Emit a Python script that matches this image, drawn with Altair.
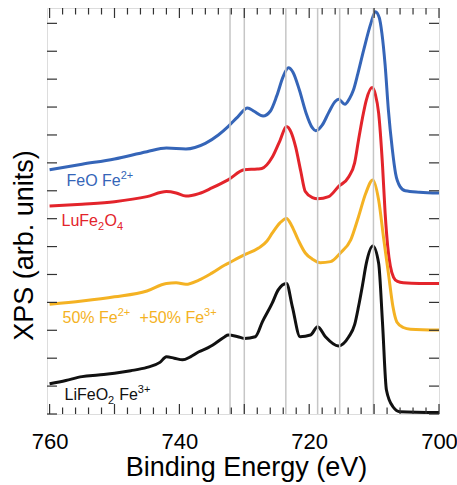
import altair as alt
import pandas as pd

# ---------------- data ----------------
feo_E = [760, 755, 750, 745, 742, 739, 736, 734, 732.5, 731, 729.5, 728.5, 727.1, 726, 725, 724,
         723.2, 722.5, 721.5, 720.5, 719.5, 719.0, 718.0, 717, 716, 715.5, 714.5, 713.8, 713.2,
         712.5, 711.6, 710.5, 709.8, 709.2, 708.8, 708.3, 707.8, 707.2, 706.7, 706.0, 705.2, 703, 700]
feo_I = [8.75, 8.95, 9.14, 9.4, 9.53, 9.5, 9.7, 10.0, 10.3, 10.65, 10.97, 10.85, 10.68, 10.85, 11.4, 12.1,
         12.41, 12.25, 11.6, 10.8, 10.25, 10.15, 10.35, 10.8, 11.2, 11.28, 11.1, 11.3, 11.6,
         12.2, 13.05, 14.0, 14.42, 14.2, 13.65, 12.5, 10.9, 9.5, 8.63, 8.15, 8.0, 7.95, 7.92]

lu_E = [760, 755, 750, 745, 742, 740.5, 739, 737, 735, 732.5, 730, 728, 727.3, 725.7, 724.5, 723.5,
        722.8, 722.1, 721.3, 720.6, 719.5, 718.7, 717, 715.5, 713.9, 713.0, 712.4, 711.8, 711.2,
        710.3, 709.8, 709.3, 708.7, 708.3, 707.9, 707.5, 707.0, 706.4, 705.5, 703, 700]
lu_I = [7.45, 7.52, 7.61, 7.79, 7.97, 7.92, 7.81, 7.9, 8.1, 8.39, 8.75, 8.78, 8.8, 9.2, 9.8, 10.3,
        10.1, 9.58, 8.7, 7.97, 7.75, 7.71, 7.79, 8.15, 8.5, 9.0, 9.82, 10.6, 11.25,
        11.7, 11.45, 10.78, 8.9, 7.2, 6.0, 5.3, 4.9, 4.75, 4.7, 4.68, 4.68]

mix_E = [760, 755, 750, 745, 742, 740.5, 739, 737, 735, 733, 732.5, 730, 727.8, 726.5, 725.7, 724.5,
         723.5, 722.7, 721.7, 720.6, 719.5, 718.3, 716.7, 715.2, 713.6, 712.4, 711.3, 710.2, 709.3,
         708.5, 707.8, 707.1, 706.5, 705.5, 704.4, 700]
mix_I = [3.93, 4.05, 4.2, 4.41, 4.68, 4.7, 4.65, 4.8, 5.05, 5.34, 5.4, 5.7, 5.95, 6.2, 6.48, 6.85,
         7.01, 6.75, 6.24, 5.77, 5.55, 5.42, 5.46, 5.77, 6.24, 7.07, 7.9, 8.39, 7.67,
         6.24, 5.05, 3.85, 3.3, 3.1, 3.04, 3.01]

li_E = [760, 757.5, 755, 752.5, 750, 747.5, 745, 743, 742, 740.8, 739.5, 738.3, 737, 735.8, 734.5,
        733, 732.5, 731, 730, 728.3, 727.2, 725.7, 724.8, 723.5, 722.6, 721.4, 719.8, 718.7, 717.5,
        715.5, 713.9, 713, 712.4, 711.8, 711.2, 710.2, 709.3, 708.7, 708.1, 707.1, 706, 700]
li_I = [1.08, 1.2, 1.34, 1.4, 1.46, 1.55, 1.67, 1.85, 2.05, 2.0, 1.94, 2.05, 2.23, 2.35, 2.53,
        2.77, 2.83, 2.77, 2.71, 2.77, 3.31, 3.97, 4.44, 4.68, 3.85, 2.77, 2.83, 3.13, 2.77,
        2.44, 2.77, 3.2, 3.85, 4.6, 5.4, 6.02, 5.4, 3.25, 0.86, 0.26, 0.08, 0.05]

series_names = ["FeO", "LuFe2O4", "mix", "LiFeO2"]
series_colors = ["#3565b8", "#e3242b", "#f4b223", "#111111"]

ref_lines = [732.2, 730.0, 723.6, 718.7, 715.3, 710.1]
x_ticks = list(range(700, 761, 2))
y_ticks = list(range(0, 15))
x_labels = [760, 740, 720, 700]

# ---------------- tables ----------------
rows = []
for name, E, I in [("FeO", feo_E, feo_I), ("LuFe2O4", lu_E, lu_I),
                   ("mix", mix_E, mix_I), ("LiFeO2", li_E, li_I)]:
    for k, (e, v) in enumerate(zip(E, I)):
        rows.append({"E": e, "I": v, "series": name, "k": k})
curves = pd.DataFrame(rows)

W, H = 392, 406
X0, X1 = 760.4, 700.0
Y0, Y1 = 0.0, 14.55
ppe = W / (X0 - X1)
ppu = H / (Y1 - Y0)

FS, FS_SMALL = 16, 11
AW = {' ': 278, '%': 889, '+': 584, 'F': 611, 'e': 556, 'O': 778, 'L': 556, 'u': 556,
      'i': 222}
def tw(s, fs):
    return sum(AW.get(c, 556) for c in s) * fs / 1000.0

labels = [
    ("FeO", 19.5, 178, [("FeO Fe", "n"), ("2+", "sup")]),
    ("LuFe2O4", 14.5, 218, [("LuFe", "n"), ("2", "sub"), ("O", "n"), ("4", "sub")]),
    ("mix", 15.5, 315, [("50% Fe", "n"), ("2+", "sup"), ("  +50% Fe", "n"), ("3+", "sup")]),
    ("LiFeO2", 17.5, 392, [("LiFeO", "n"), ("2", "sub"), (" Fe", "n"), ("3+", "sup")]),
]
trows = []
for name, lx, by, pieces in labels:
    off = lx
    for txt, kind in pieces:
        fs = FS if kind == "n" else FS_SMALL
        lead = len(txt) - len(txt.lstrip(' '))
        off_txt = off + tw(txt[:lead], fs)
        trows.append({"E": X0 - off_txt / ppe, "I": Y1 - by / ppu,
                      "text": txt.strip(), "series": name, "kind": kind})
        off += tw(txt, fs) + (0.5 if kind != "n" else 0)
texts = pd.DataFrame(trows)

xt = pd.DataFrame({"E": x_ticks, "major": [v % 10 == 0 for v in x_ticks]})
yt = pd.DataFrame({"I": y_ticks})
vl = pd.DataFrame({"E": ref_lines})

FONT = "Liberation Sans"
xs = alt.Scale(domain=[X0, X1], nice=False, zero=False)
ys = alt.Scale(domain=[Y0, Y1], nice=False, zero=False)
cs = alt.Scale(domain=series_names, range=series_colors)

xq = lambda: alt.X("E:Q", scale=xs)
yq = lambda: alt.Y("I:Q", scale=ys)

lines = alt.Chart(curves).mark_line(strokeWidth=3, interpolate="monotone").encode(
    x=alt.X("E:Q", scale=xs, axis=alt.Axis(
        values=x_labels, ticks=False, tickSize=0, domain=False, grid=False,
        labelFontSize=22, labelPadding=17, labelFlush=False, labelColor="#000",
        labelFont=FONT, title="Binding Energy (eV)", titleFontSize=27, titleFont=FONT,
        titleFontWeight="normal", titleColor="#000", titleX=199, titleY=61,
        titleBaseline="alphabetic", titleAlign="center")),
    y=alt.Y("I:Q", scale=ys, axis=alt.Axis(
        labels=False, ticks=False, tickSize=0, domain=False, grid=False,
        title="XPS (arb. units)", titleFontSize=27, titleFont=FONT,
        titleFontWeight="normal", titleColor="#000", titleX=-15, titleY=237,
        titleBaseline="alphabetic", titleAlign="center", titleAngle=270)),
    color=alt.Color("series:N", scale=cs, legend=None),
    detail="series:N",
    order="k:Q",
)

vlines = alt.Chart(vl).mark_rule(color="#c6c6c6", strokeWidth=1.5).encode(x=xq())

TC, TW = "#333333", 1.2
bmaj = alt.Chart(xt).transform_filter("datum.major").mark_rule(color=TC, strokeWidth=TW).encode(
    x=xq(), y=alt.value(H), y2=alt.value(H - 10))
bmin = alt.Chart(xt).transform_filter("!datum.major").mark_rule(color=TC, strokeWidth=TW).encode(
    x=xq(), y=alt.value(H), y2=alt.value(H - 6.5))
tmaj = alt.Chart(xt).transform_filter("datum.major").mark_rule(color=TC, strokeWidth=TW).encode(
    x=xq(), y=alt.value(0), y2=alt.value(10))
tmin = alt.Chart(xt).transform_filter("!datum.major").mark_rule(color=TC, strokeWidth=TW).encode(
    x=xq(), y=alt.value(0), y2=alt.value(6.5))
lt = alt.Chart(yt).mark_rule(color=TC, strokeWidth=TW).encode(
    y=yq(), x=alt.value(0), x2=alt.value(10))
rt = alt.Chart(yt).mark_rule(color=TC, strokeWidth=TW).encode(
    y=yq(), x=alt.value(W), x2=alt.value(W - 10))

def text_layer(kind, fs, dy):
    return alt.Chart(texts).transform_filter(f"datum.kind == '{kind}'").mark_text(
        align="left", baseline="alphabetic", fontSize=fs, font=FONT, dy=dy).encode(
        x=xq(), y=yq(), text="text:N",
        color=alt.Color("series:N", scale=cs, legend=None))

chart = alt.layer(
    lines, vlines, bmaj, bmin, tmaj, tmin, lt, rt,
    text_layer("n", FS, 0), text_layer("sup", FS_SMALL, -7.5), text_layer("sub", FS_SMALL, 4),
).properties(
    width=W, height=H,
    autosize=alt.AutoSizeParams(type="none"),
    padding={"left": 47, "top": 8, "right": 18, "bottom": 71},
    background="white",
).configure_view(stroke="#333333", strokeWidth=1.3).configure(font=FONT)

chart.save("out.html", embed_options={"renderer": "svg", "actions": False})
